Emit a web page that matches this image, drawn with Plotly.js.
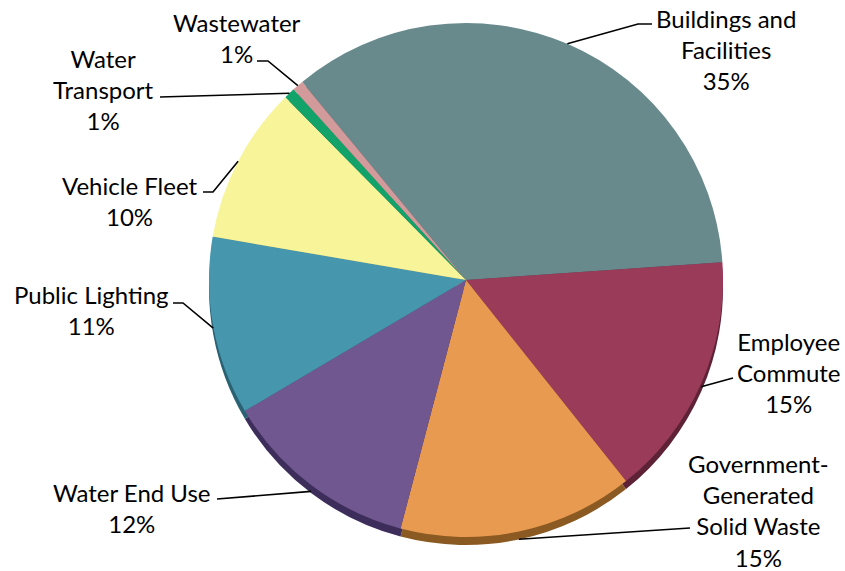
<!DOCTYPE html>
<html>
<head>
<meta charset="utf-8">
<script src="https://cdn.plot.ly/plotly-3.0.1.min.js"></script>
<style>html,body{margin:0;padding:0;background:#fff;}</style>
</head>
<body>
<div id="chart" style="width:845px;height:571px"></div>
<script>
// ---- data ----
const categories = ['Buildings and<br>Facilities', 'Employee<br>Commute', 'Government-<br>Generated<br>Solid Waste',
  'Water End Use', 'Public Lighting', 'Vehicle Fleet', 'Water<br>Transport', 'Wastewater'];
const values = [34.9, 15.4, 14.8, 12.4, 11.2, 9.9, 0.7, 0.7];

// ---- styling / layout ----
const topColors  = ['#698a8d', '#9a3b59', '#e89a50', '#70578f', '#4697ae', '#f8f49a', '#12a36b', '#d29a9a'];
const sideColors = ['#3e5557', '#5e2236', '#8a5a22', '#3d2d5a', '#2a6173', '#a5a160', '#0b6642', '#8a6060'];
const W = 845, H = 571, CX = 466, CY = 280, R = 257, DEPTH = 8, ROT = -39.6;
// label text centres (px) and the label-side end of each leader line (px)
const labelPos = [[726, 50], [788, 372], [758, 510], [132, 508], [91, 310], [129, 201], [103, 89], [237, 38]];
const lineEnd  = [[652, 24], [733, 378], [690, 528], [217, 499], [173, 303], [203, 192], [160, 97], [257, 61]];
const elbowLen = [14, 0, 0, 0, 10, 10, 0, 11];

const px = x => x / W;
const py = y => 1 - y / H;

const total = values.reduce((a, b) => a + b, 0);
const pct = values.map(v => Math.round(v / total * 100) + '%');

const pieTop = {
  type: 'pie', values: values, labels: categories, sort: false, direction: 'clockwise',
  rotation: ROT, textinfo: 'none', hoverinfo: 'skip', showlegend: false,
  marker: {colors: topColors, line: {width: 0}},
  domain: {x: [px(CX - R), px(CX + R)], y: [py(CY + R), py(CY - R)]}
};
const pieSide = Object.assign({}, pieTop, {
  marker: {colors: sideColors, line: {width: 0}},
  domain: {x: [px(CX - R), px(CX + R)], y: [py(CY + R + DEPTH), py(CY - R + DEPTH)]}
});

const annotations = [];
const shapes = [];
let cum = 0;
values.forEach((v, i) => {
  const mid = (ROT + (cum + v / 2) / total * 360) * Math.PI / 180;
  cum += v;
  const c = Math.cos(mid);
  const ex = CX + R * Math.sin(mid);
  const ey = CY - R * c + (c < 0 ? DEPTH * (-c) : 0);
  const [lx, ly] = lineEnd[i];
  const dir = lx > ex ? -1 : 1;
  const bx = lx + dir * elbowLen[i];
  shapes.push({
    type: 'path', xref: 'paper', yref: 'paper',
    path: `M ${px(ex)} ${py(ey)} L ${px(bx)} ${py(ly)} L ${px(lx)} ${py(ly)}`,
    line: {color: '#000', width: 1.6}
  });
  annotations.push({
    xref: 'paper', yref: 'paper', x: px(labelPos[i][0]), y: py(labelPos[i][1]),
    xanchor: 'center', yanchor: 'middle', showarrow: false, align: 'center',
    text: categories[i] + '<br>' + pct[i],
    font: {family: 'Lato, "Open Sans", sans-serif', size: 24, color: '#000'}
  });
});

const layout = {
  width: W, height: H, margin: {l: 0, r: 0, t: 0, b: 0},
  paper_bgcolor: '#fff', plot_bgcolor: '#fff',
  annotations: annotations, shapes: shapes
};
Plotly.newPlot('chart', [pieSide, pieTop], layout, {staticPlot: true});
</script>
</body>
</html>
